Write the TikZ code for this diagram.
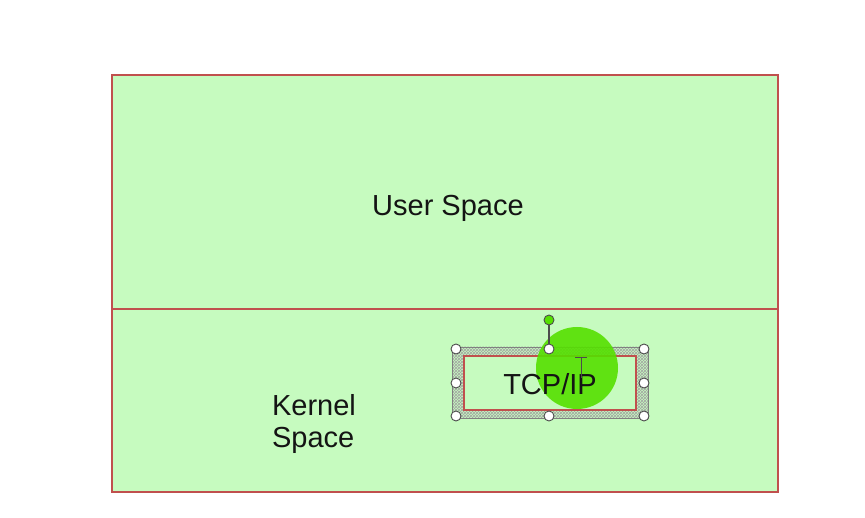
\documentclass[tikz,border=0pt]{standalone}
\usepackage{fontspec}
\setmainfont{Liberation Sans}
\usetikzlibrary{patterns}
\definecolor{boxfill}{HTML}{C6FBBF}
\definecolor{boxline}{HTML}{C0504D}
\definecolor{hl}{HTML}{55E000}
\tikzset{
  x=1pt,y=-1pt,
  area/.style={draw=boxline,line width=2.2pt,fill=boxfill},
  lbl/.style={font=\fontsize{29}{32}\selectfont,text=black!92},
  handle/.style={circle,draw=black!70,fill=white,line width=0.9pt,inner sep=0pt,minimum size=10pt},
}
\begin{document}
\begin{tikzpicture}
\useasboundingbox (0,0) rectangle (865,518);
\fill[white] (0,0) rectangle (865,518);
% outer area and divider
\node[area,inner sep=0pt,minimum width=666pt,minimum height=417pt,anchor=north west] (outer) at (111,74) {};
\coordinate (divw) at (111,309);
\coordinate (dive) at (777,309);
\draw[boxline,line width=1.3pt] (divw) -- (dive);
\node[lbl] (usertxt) at (448,208) {User Space};
\node[lbl,align=left] (kerneltxt) at (314,424) {Kernel\\Space};
% selection frame
\fill[pattern=crosshatch dots,pattern color=black!70,even odd rule]
  (452,347) rectangle (648,418) (463,355) rectangle (637,411);
\fill[pattern=crosshatch,pattern color=black!35,even odd rule]
  (452,347) rectangle (648,418) (463,355) rectangle (637,411);
\draw[black!50,line width=0.5pt] (452,347) rectangle (648,418);
% TCP/IP box
\node[draw=boxline,line width=2.2pt,fill=boxfill,inner sep=0pt,minimum width=172pt,minimum height=54pt] (tcp) at (550,383) {};
% highlight circle
\fill[hl,opacity=0.9] (577,368) circle (41);
\node[lbl] (tcptxt) at (550,384) {TCP/IP};
% I-beam cursor
\draw[black!70,line width=1pt] (581,358) -- (581,378);
\draw[black!70,line width=1pt] (575,358) -- (587,358);
% handles
\coordinate (rot) at (549,320);
\node[handle] (hn) at (549,349) {};
\draw[black!70,line width=1.3pt] (rot) -- (hn);
\node[circle,draw=black!70,fill=hl,line width=0.9pt,inner sep=0pt,minimum size=10pt] (rh) at (rot) {};
\node[handle] (hnw) at (456,349) {};
\node[handle] (hne) at (644,349) {};
\node[handle] (hw) at (456,383) {};
\node[handle] (he) at (644,383) {};
\node[handle] (hsw) at (456,416) {};
\node[handle] (hs) at (549,416) {};
\node[handle] (hse) at (644,416) {};
\end{tikzpicture}
\end{document}
